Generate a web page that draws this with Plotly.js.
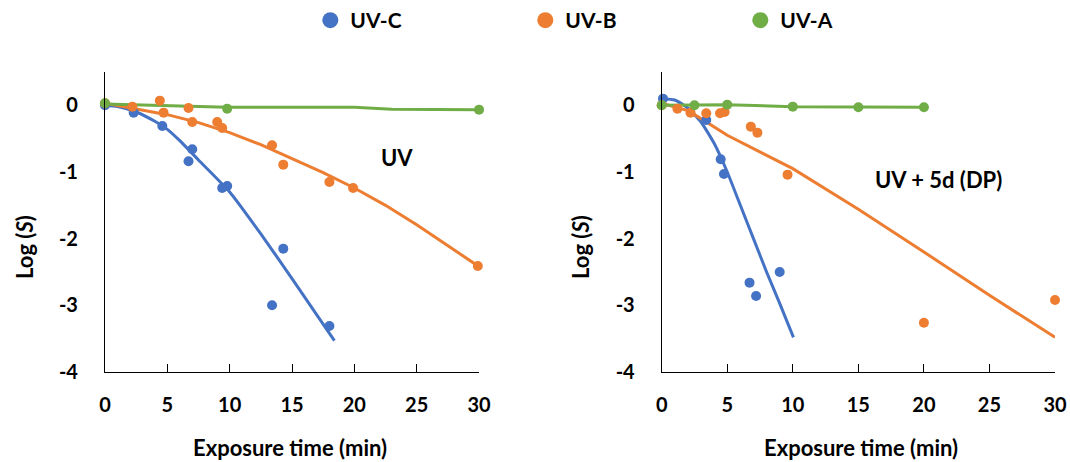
<!DOCTYPE html>
<html><head><meta charset="utf-8">
<script src="https://cdn.plot.ly/plotly-3.0.1.min.js"></script>
<style>html,body{margin:0;padding:0;background:#fff}#chart{width:1070px;height:462px}</style>
</head><body><div id="chart"></div>
<script>
// ---- data ----
const seriesNames = ['UV-C', 'UV-B', 'UV-A'];
const seriesColors = ['#4472C4', '#ED7D31', '#70AD47'];
const xTickVals = [0, 5, 10, 15, 20, 25, 30];
const yTickVals = [-4, -3, -2, -1, 0];
const yTickText = ['-4', '-3', '-2', '-1', '0'];

// Left panel (UV)
const uvcX_L = [0, 2.3, 4.6, 6.7, 7.0, 9.4, 9.8, 13.4, 14.3, 18.0];
const uvcY_L = [0.0, -0.11, -0.31, -0.84, -0.66, -1.24, -1.21, -3.0, -2.15, -3.31];
const uvcFitX_L = [0, 1, 2.5, 4, 5, 6, 7.5, 10, 12.5, 15, 18.4];
const uvcFitY_L = [0, -0.02, -0.1, -0.24, -0.36, -0.53, -0.82, -1.3, -1.93, -2.6, -3.53];

const uvbX_L = [0, 2.2, 4.4, 4.7, 6.7, 7.0, 9.0, 9.4, 13.4, 14.3, 18.0, 19.9, 29.9];
const uvbY_L = [0.03, -0.02, 0.07, -0.11, -0.04, -0.25, -0.25, -0.34, -0.60, -0.89, -1.15, -1.24, -2.41];
const uvbFitX_L = [0, 2.5, 5, 7.5, 10, 12.5, 15, 17.5, 20, 22.5, 25, 27.5, 30];
const uvbFitY_L = [0.03, -0.05, -0.14, -0.26, -0.41, -0.59, -0.8, -1.01, -1.24, -1.5, -1.79, -2.1, -2.42];

const uvaX_L = [0, 9.8, 30];
const uvaY_L = [0.03, -0.05, -0.065];
const uvaFitX_L = [0, 9.8, 20, 23, 30];
const uvaFitY_L = [0.02, -0.03, -0.03, -0.06, -0.065];

// Right panel (UV + 5d (DP))
const uvcX_R = [0.1, 3.4, 4.5, 4.75, 6.7, 7.2, 9.0];
const uvcY_R = [0.1, -0.22, -0.81, -1.03, -2.66, -2.86, -2.50];
const uvcFitX_R = [0, 1, 2, 3, 4, 5, 6, 7, 8, 9, 10.05];
const uvcFitY_R = [0.1, 0.08, -0.04, -0.25, -0.57, -1.0, -1.5, -2.0, -2.5, -2.97, -3.48];

const uvbX_R = [0, 1.2, 2.2, 3.4, 4.45, 4.8, 6.8, 7.3, 9.6, 20.0, 30.0];
const uvbY_R = [0.0, -0.05, -0.11, -0.12, -0.12, -0.10, -0.32, -0.41, -1.04, -3.26, -2.92];
const uvbFitX_R = [0, 2, 3, 5, 10, 15, 20, 25, 30];
const uvbFitY_R = [0.03, -0.08, -0.2, -0.45, -0.95, -1.56, -2.2, -2.85, -3.48];

const uvaX_R = [0, 2.5, 5, 10, 15, 20];
const uvaY_R = [0, 0.0, 0.01, -0.02, -0.03, -0.03];

const panelLabels = ['UV', 'UV + 5d (DP)'];
const xTitle = 'Exposure time (min)';
const yTitle = 'Log (<i>S</i>)';

// ---- traces ----
const FONT = 'Lato, "Open Sans", sans-serif';
function line(x, y, c, xa, ya, smooth) {
  return {x, y, xaxis: xa, yaxis: ya, mode: 'lines', type: 'scatter', showlegend: false,
    line: smooth ? {color: c, width: 3, shape: 'spline', smoothing: 0.5} : {color: c, width: 3},
    hoverinfo: 'skip'};
}
function pts(x, y, c, xa, ya) {
  return {x, y, xaxis: xa, yaxis: ya, mode: 'markers', type: 'scatter', showlegend: false,
    cliponaxis: false, marker: {color: c, size: 10}};
}
const traces = [
  line(uvcFitX_L, uvcFitY_L, seriesColors[0], 'x', 'y', true),
  line(uvbFitX_L, uvbFitY_L, seriesColors[1], 'x', 'y', false),
  line(uvaFitX_L, uvaFitY_L, seriesColors[2], 'x', 'y', false),
  pts(uvcX_L, uvcY_L, seriesColors[0], 'x', 'y'),
  pts(uvbX_L, uvbY_L, seriesColors[1], 'x', 'y'),
  pts(uvaX_L, uvaY_L, seriesColors[2], 'x', 'y'),
  line(uvcFitX_R, uvcFitY_R, seriesColors[0], 'x2', 'y2', true),
  line(uvbFitX_R, uvbFitY_R, seriesColors[1], 'x2', 'y2', false),
  line(uvaX_R, uvaY_R, seriesColors[2], 'x2', 'y2', false),
  pts(uvcX_R, uvcY_R, seriesColors[0], 'x2', 'y2'),
  pts(uvbX_R, uvbY_R, seriesColors[1], 'x2', 'y2'),
  pts(uvaX_R, uvaY_R, seriesColors[2], 'x2', 'y2'),
];
seriesNames.forEach((n, i) => traces.push({
  x: [null], y: [null], name: n, mode: 'markers', type: 'scatter', showlegend: true,
  marker: {color: seriesColors[i], size: 18}
}));

const tickFont = {family: FONT, size: 20, color: '#000', weight: 700};
function xax(domain, anchor) {
  return {domain, anchor, range: [0, 30], tickvals: xTickVals, showline: true, linecolor: '#000',
    linewidth: 1, ticks: 'inside', ticklen: 8, tickcolor: '#000', showgrid: false, zeroline: false,
    tickfont: tickFont, ticklabelstandoff: 15, fixedrange: true};
}
function yax(anchor) {
  return {domain: [0.1948, 0.8442], anchor, range: [-4, 0.5], tickvals: yTickVals, ticktext: yTickText,
    showline: true, linecolor: '#000', linewidth: 1, ticks: '', showgrid: false, zeroline: false,
    tickfont: tickFont, ticklabelstandoff: 22, fixedrange: true};
}
const annFont = {family: FONT, size: 22, color: '#000', weight: 700};
function ann(text, xref, yref, x, y, extra) {
  return Object.assign({text, xref, yref, x, y, xanchor: 'center', yanchor: 'middle',
    showarrow: false, font: annFont}, extra || {});
}
const layout = {
  width: 1070, height: 462, margin: {l: 0, r: 0, t: 0, b: 0},
  paper_bgcolor: '#fff', plot_bgcolor: '#fff',
  font: {family: FONT, color: '#000'},
  xaxis: xax([0.0981, 0.4477], 'y'),
  yaxis: yax('x'),
  xaxis2: xax([0.6184, 0.986], 'y2'),
  yaxis2: yax('x2'),
  showlegend: true,
  legend: {orientation: 'h', x: 0.29, xanchor: 'left', y: 1.0, yanchor: 'top',
    entrywidth: 170, entrywidthmode: 'pixels', font: {family: FONT, size: 21, color: '#000', weight: 700},
    itemsizing: 'trace', bgcolor: 'rgba(0,0,0,0)'},
  annotations: [
    ann(panelLabels[0], 'x', 'y', 23.4, -0.79),
    ann(panelLabels[1], 'x2', 'y2', 21.1, -1.12),
    ann(xTitle, 'paper', 'paper', 290 / 1070, 1 - 447 / 462),
    ann(xTitle, 'paper', 'paper', 861 / 1070, 1 - 447 / 462),
    ann(yTitle, 'paper', 'paper', 24 / 1070, 1 - 247 / 462, {textangle: -90}),
    ann(yTitle, 'paper', 'paper', 580 / 1070, 1 - 247 / 462, {textangle: -90}),
  ]
};
Plotly.newPlot('chart', traces, layout, {staticPlot: true, displayModeBar: false});
</script></body></html>
